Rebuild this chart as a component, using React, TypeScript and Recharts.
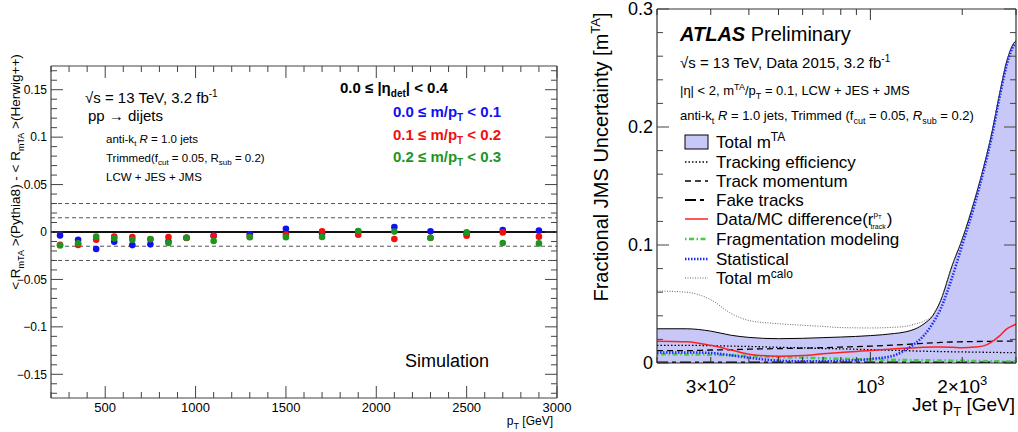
import React from 'react';
import { ComposedChart, Scatter, XAxis, YAxis, ReferenceLine, Area, Line } from 'recharts';

// ---------------- Left panel data ----------------
const ptBins = [250, 350, 450, 550, 650, 750, 850, 950, 1100, 1300, 1500, 1700, 1900, 2100, 2300, 2500, 2700, 2900];
const diffMass00to01 = [-0.0036, -0.0082, -0.018, -0.0102, -0.0138, -0.013, -0.0100, -0.0060, -0.0040, -0.0025, 0.0035, -0.0014, 0.0005, 0.0053, 0.0007, -0.0020, 0.0020, 0.0014];
const diffMass01to02 = [-0.0135, -0.0136, -0.0081, -0.0049, -0.0053, -0.0076, -0.0053, -0.0062, -0.0039, -0.0050, -0.0028, 0.0007, -0.0028, -0.0074, -0.0060, -0.0039, -0.0004, -0.0049];
const diffMass02to03 = [-0.0143, -0.0118, -0.0049, -0.0067, -0.0081, -0.0074, -0.0116, -0.0060, -0.0095, -0.0055, -0.0056, -0.0053, 0.0010, 0.0004, -0.0064, -0.0004, -0.0116, -0.0120];
const closureBands = [-0.03, -0.015, 0.015, 0.03];

const leftXMajor = [500, 1000, 1500, 2000, 2500, 3000];
const leftXLabels = ['500', '1000', '1500', '2000', '2500', '3000'];
const leftYMajor = [-0.15, -0.1, -0.05, 0, 0.05, 0.1, 0.15];
const leftYLabels = ['\u22120.15', '\u22120.1', '\u22120.05', '0', '0.05', '0.1', '0.15'];

// ---------------- Right panel data ----------------
const jetPt = [200, 250, 300, 350, 400, 500, 600, 700, 800, 1000, 1200, 1300, 1400, 1500, 1600, 1700, 1850, 2000, 2200, 2350, 2500, 2650, 2800, 2950, 3000];
const totalTA = [0.0290, 0.0290, 0.0270, 0.0235, 0.0217, 0.0206, 0.0209, 0.0215, 0.0220, 0.0232, 0.0250, 0.0263, 0.0288, 0.0333, 0.0400, 0.0530, 0.0820, 0.1050, 0.1390, 0.1660, 0.1950, 0.2280, 0.2560, 0.2710, 0.2730];
const trackingEff = [0.0150, 0.0150, 0.0147, 0.0143, 0.0140, 0.0133, 0.0128, 0.0123, 0.0120, 0.0113, 0.0107, 0.0105, 0.0102, 0.0100, 0.0098, 0.0097, 0.0095, 0.0094, 0.0092, 0.0091, 0.0090, 0.0089, 0.0088, 0.0088, 0.0088];
const trackMomentum = [0.0105, 0.0105, 0.0110, 0.0113, 0.0117, 0.0122, 0.0126, 0.0130, 0.0135, 0.0143, 0.0152, 0.0157, 0.0162, 0.0167, 0.0171, 0.0174, 0.0178, 0.0180, 0.0182, 0.0183, 0.0184, 0.0185, 0.0185, 0.0185, 0.0185];
const fakeTracks = [0.0005, 0.0005, 0.0005, 0.0005, 0.0005, 0.0005, 0.0005, 0.0005, 0.0005, 0.0005, 0.0005, 0.0005, 0.0005, 0.0005, 0.0005, 0.0005, 0.0005, 0.0005, 0.0005, 0.0005, 0.0005, 0.0005, 0.0005, 0.0005, 0.0005];
const dataMCDiff = [0.0185, 0.0180, 0.0150, 0.0110, 0.0075, 0.0058, 0.0063, 0.0078, 0.0090, 0.0105, 0.0120, 0.0125, 0.0130, 0.0133, 0.0135, 0.0135, 0.0133, 0.0130, 0.0135, 0.0145, 0.0180, 0.0230, 0.0290, 0.0320, 0.0330];
const fragModeling = [0.0075, 0.0073, 0.0070, 0.0065, 0.0060, 0.0050, 0.0045, 0.0040, 0.0036, 0.0030, 0.0027, 0.0025, 0.0024, 0.0023, 0.0022, 0.0021, 0.0020, 0.0019, 0.0017, 0.0016, 0.0015, 0.0014, 0.0013, 0.0012, 0.0012];
const statistical = [0.0090, 0.0090, 0.0085, 0.0065, 0.0045, 0.0020, 0.0015, 0.0015, 0.0018, 0.0034, 0.0065, 0.0110, 0.0165, 0.0235, 0.0335, 0.0460, 0.0720, 0.1000, 0.1350, 0.1630, 0.1920, 0.2250, 0.2530, 0.2690, 0.2710];
const totalCalo = [0.0610, 0.0600, 0.0537, 0.0420, 0.0360, 0.0333, 0.0320, 0.0310, 0.0300, 0.0297, 0.0303, 0.0310, 0.0330, 0.0355, 0.0405, 0.0535, 0.0825, 0.1055, 0.1395, 0.1665, 0.1955, 0.2285, 0.2565, 0.2715, 0.2735];

const rightXTicks = [200, 300, 400, 500, 600, 700, 800, 900, 1000, 2000, 3000];
const rightXLabels = [
  { v: 300, base: '3\u00d710', sup: '2' },
  { v: 1000, base: '10', sup: '3' },
  { v: 2000, base: '2\u00d710', sup: '3' },
];
const rightYMajor = [0, 0.1, 0.2, 0.3];
const rightYLabels = ['0', '0.1', '0.2', '0.3'];

// minor tick positions
const leftXTicks = Array.from({ length: 29 }, (_, i) => 200 + i * 100);
const leftYTicks = Array.from({ length: 35 }, (_, i) => (i - 17) / 100);
const rightYTicks = Array.from({ length: 16 }, (_, i) => (i * 2) / 100);

const F = '"Liberation Sans", Arial, Helvetica, sans-serif';
const AX = '#444';

const mkPoints = (vals: number[]) => ptBins.map((x, i) => ({ x, y: vals[i] }));
const rightData = jetPt.map((pt, i) => ({
  pt,
  totalTA: totalTA[i],
  trackingEff: trackingEff[i],
  trackMomentum: trackMomentum[i],
  fakeTracks: fakeTracks[i],
  dataMCDiff: dataMCDiff[i],
  fragModeling: fragModeling[i],
  statistical: statistical[i],
  totalCalo: totalCalo[i],
}));

type Side = 'bottom' | 'top' | 'left' | 'right';
const isIn = (arr: number[], v: number) =>
  arr.findIndex((m) => Math.abs(m - v) <= 1e-6 * Math.max(1, Math.abs(m)));

function tickFn(side: Side, majors: number[], labels: string[] | null, majorLen: number, minorLen: number, fontSize = 12, lblOff = 14) {
  return (props: any) => {
    const { x, y, payload } = props;
    const v = Number(payload.value);
    const idx = isIn(majors, v);
    const len = idx >= 0 ? majorLen : minorLen;
    let line: any = null;
    if (side === 'bottom') line = <line x1={x} x2={x} y1={y} y2={y - len} stroke={AX} strokeWidth={1} />;
    if (side === 'top') line = <line x1={x} x2={x} y1={y} y2={y + len} stroke={AX} strokeWidth={1} />;
    if (side === 'left') line = <line x1={x} x2={x + len} y1={y} y2={y} stroke={AX} strokeWidth={1} />;
    if (side === 'right') line = <line x1={x} x2={x - len} y1={y} y2={y} stroke={AX} strokeWidth={1} />;
    let label: any = null;
    if (labels && idx >= 0 && labels[idx]) {
      if (side === 'bottom')
        label = <text x={x} y={y + lblOff} textAnchor="middle" fontSize={fontSize} fontFamily={F} fill="#000">{labels[idx]}</text>;
      if (side === 'left')
        label = <text x={x - 4} y={y + fontSize * 0.36} textAnchor="end" fontSize={fontSize} fontFamily={F} fill="#000">{labels[idx]}</text>;
    }
    return <g>{line}{label}</g>;
  };
}

const rightXTick = (props: any) => {
  const { x, y, payload } = props;
  const v = Number(payload.value);
  const len = v === 1000 ? 11 : 6;
  const lab = rightXLabels.find((l) => l.v === v);
  return (
    <g>
      <line x1={x} x2={x} y1={y} y2={y - len} stroke="#333" strokeWidth={1} />
      {lab && (
        <text x={x} y={y + 30} textAnchor="middle" fontSize={19} fontFamily={F} fill="#000">
          {lab.base}
          <tspan dy={-8} fontSize={13}>{lab.sup}</tspan>
        </text>
      )}
    </g>
  );
};
const rightXTopTick = (props: any) => {
  const { x, y, payload } = props;
  const v = Number(payload.value);
  const len = v === 1000 ? 11 : 6;
  return <line x1={x} x2={x} y1={y} y2={y + len} stroke="#333" strokeWidth={1} />;
};

const dot = (color: string) => (props: any) =>
  props.cx == null ? <g /> : <circle cx={props.cx} cy={props.cy} r={3.3} fill={color} />;

const BLUE = '#1010f0';
const RED = '#f01010';
const GREEN = '#1e961e';
const FILL = '#c8c8f8';

const styles = {
  trackingEff: { stroke: '#000', strokeWidth: 1.3, strokeDasharray: '1.5 2' },
  trackMomentum: { stroke: '#000', strokeWidth: 1.3, strokeDasharray: '6 4' },
  fakeTracks: { stroke: '#000', strokeWidth: 1.8, strokeDasharray: '11 4 4 4' },
  dataMCDiff: { stroke: '#ff2020', strokeWidth: 1.5, strokeDasharray: undefined as any },
  fragModeling: { stroke: '#44cc44', strokeWidth: 2.5, strokeDasharray: '1.5 2.5 5 2.5' },
  statistical: { stroke: '#1a2bff', strokeWidth: 2.5, strokeDasharray: '1.5 1.5' },
  totalCalo: { stroke: '#666', strokeWidth: 1, strokeDasharray: '1 1.5' },
};

function LeftChart() {
  return (
    <ComposedChart width={575} height={432} margin={{ top: 0, right: 0, bottom: 0, left: 0 }}>
      <XAxis dataKey="x" type="number" domain={[200, 3000]} allowDataOverflow ticks={leftXTicks} interval={0}
        height={34} tickSize={0} tickMargin={0} tickLine={false} axisLine={{ stroke: AX, strokeWidth: 1.2 }}
        tick={tickFn('bottom', leftXMajor, leftXLabels, 12, 6, 13, 14)} />
      <XAxis xAxisId="top" orientation="top" dataKey="x" type="number" domain={[200, 3000]} allowDataOverflow ticks={leftXTicks} interval={0}
        height={66} tickSize={0} tickMargin={0} tickLine={false} axisLine={{ stroke: AX, strokeWidth: 1.2 }}
        tick={tickFn('top', leftXMajor, null, 12, 6)} />
      <YAxis dataKey="y" type="number" domain={[-0.175, 0.175]} allowDataOverflow ticks={leftYTicks} interval={0}
        width={51} tickSize={0} tickMargin={0} tickLine={false} axisLine={{ stroke: AX, strokeWidth: 1.2 }}
        tick={tickFn('left', leftYMajor, leftYLabels, 12, 6, 12)} />
      <YAxis yAxisId="right" orientation="right" dataKey="y" type="number" domain={[-0.175, 0.175]} allowDataOverflow ticks={leftYTicks} interval={0}
        width={18} tickSize={0} tickMargin={0} tickLine={false} axisLine={{ stroke: AX, strokeWidth: 1.2 }}
        tick={tickFn('right', leftYMajor, null, 12, 6)} />
      {closureBands.map((b) => (
        <ReferenceLine key={b} y={b} stroke="#555" strokeWidth={1} strokeDasharray="4 3" />
      ))}
      <ReferenceLine y={0} stroke="#111" strokeWidth={2} />
      <Scatter data={mkPoints(diffMass00to01)} fill={BLUE} shape={dot(BLUE)} isAnimationActive={false} />
      <Scatter data={mkPoints(diffMass01to02)} fill={RED} shape={dot(RED)} isAnimationActive={false} />
      <Scatter data={mkPoints(diffMass02to03)} fill={GREEN} shape={dot(GREEN)} isAnimationActive={false} />
    </ComposedChart>
  );
}

function RightChart() {
  return (
    <ComposedChart width={443} height={432} data={rightData} margin={{ top: 0, right: 0, bottom: 0, left: 0 }}>
      <XAxis dataKey="pt" type="number" scale="log" domain={[200, 3000]} allowDataOverflow ticks={rightXTicks} interval={0}
        height={69} tickSize={0} tickMargin={0} tickLine={false} axisLine={{ stroke: '#333', strokeWidth: 1.2 }}
        tick={rightXTick} />
      <XAxis xAxisId="top" orientation="top" dataKey="pt" type="number" scale="log" domain={[200, 3000]} allowDataOverflow ticks={rightXTicks} interval={0}
        height={9} tickSize={0} tickMargin={0} tickLine={false} axisLine={{ stroke: '#333', strokeWidth: 1.2 }}
        tick={rightXTopTick} />
      <YAxis type="number" domain={[0, 0.3]} allowDataOverflow ticks={rightYTicks} interval={0}
        width={82} tickSize={0} tickMargin={0} tickLine={false} axisLine={{ stroke: '#333', strokeWidth: 1.2 }}
        tick={tickFn('left', rightYMajor, rightYLabels, 12, 6, 18)} />
      <YAxis yAxisId="right" orientation="right" type="number" domain={[0, 0.3]} allowDataOverflow ticks={rightYTicks} interval={0}
        width={2} tickSize={0} tickMargin={0} tickLine={false} axisLine={{ stroke: '#333', strokeWidth: 1.2 }}
        tick={tickFn('right', rightYMajor, null, 12, 6)} />
      <Area dataKey="totalTA" type="monotone" fill={FILL} fillOpacity={1} stroke="#000" strokeWidth={1} isAnimationActive={false} dot={false} activeDot={false} />
      <Line dataKey="totalCalo" type="monotone" {...styles.totalCalo} dot={false} activeDot={false} isAnimationActive={false} />
      <Line dataKey="trackingEff" type="monotone" {...styles.trackingEff} dot={false} activeDot={false} isAnimationActive={false} />
      <Line dataKey="trackMomentum" type="monotone" {...styles.trackMomentum} dot={false} activeDot={false} isAnimationActive={false} />
      <Line dataKey="fakeTracks" type="monotone" {...styles.fakeTracks} dot={false} activeDot={false} isAnimationActive={false} />
      <Line dataKey="fragModeling" type="monotone" {...styles.fragModeling} dot={false} activeDot={false} isAnimationActive={false} />
      <Line dataKey="dataMCDiff" type="monotone" stroke={styles.dataMCDiff.stroke} strokeWidth={1.5} dot={false} activeDot={false} isAnimationActive={false} />
      <Line dataKey="statistical" type="monotone" {...styles.statistical} dot={false} activeDot={false} isAnimationActive={false} />
    </ComposedChart>
  );
}

const legendRows: { label: any; kind: string }[] = [
  { kind: 'box', label: 'Total m' },
  { kind: 'trackingEff', label: 'Tracking efficiency' },
  { kind: 'trackMomentum', label: 'Track momentum' },
  { kind: 'fakeTracks', label: 'Fake tracks' },
  { kind: 'dataMCDiff', label: 'Data/MC difference(r' },
  { kind: 'fragModeling', label: 'Fragmentation modeling' },
  { kind: 'statistical', label: 'Statistical' },
  { kind: 'totalCalo', label: 'Total m' },
];
const legendY = [142, 162, 181, 200, 219, 239, 259, 278];

function Overlay() {
  return (
    <svg width={1018} height={432} style={{ position: 'absolute', left: 0, top: 0, pointerEvents: 'none' }} fontFamily={F}>
      {/* ---------- left panel text ---------- */}
      <text transform="translate(20,172) rotate(-90)" textAnchor="middle" fontSize={13.5}>
        {'< R'}<tspan dy={4} fontSize={9}>mTA</tspan><tspan dy={-4}>{' >(Pythia8) - < R'}</tspan>
        <tspan dy={4} fontSize={9}>mTA</tspan><tspan dy={-4}>{' >(Herwig++)'}</tspan>
      </text>
      <text x={85} y={103} fontSize={15}>{'\u221as = 13 TeV, 3.2 fb'}<tspan dy={-6} fontSize={10}>-1</tspan></text>
      <text x={88} y={121} fontSize={15}>{'pp \u2192 dijets'}</text>
      <text x={106} y={143} fontSize={11.5}>
        {'anti-k'}<tspan dy={3} fontSize={8}>t</tspan><tspan dy={-3}>{' '}</tspan><tspan fontStyle="italic">R</tspan>{' = 1.0 jets'}
      </text>
      <text x={106} y={162} fontSize={11.5}>
        {'Trimmed(f'}<tspan dy={3} fontSize={8}>cut</tspan><tspan dy={-3}>{' = 0.05, R'}</tspan>
        <tspan dy={3} fontSize={8}>sub</tspan><tspan dy={-3}>{' = 0.2)'}</tspan>
      </text>
      <text x={106} y={181} fontSize={11.5}>LCW + JES + JMS</text>

      <text x={340} y={93} fontSize={15} fontWeight="bold">
        {'0.0 \u2264 |\u03b7'}<tspan dy={4} fontSize={10}>det</tspan><tspan dy={-4}>{'| < 0.4'}</tspan>
      </text>
      <text x={393} y={117} fontSize={15} fontWeight="bold" fill={BLUE}>
        {'0.0 \u2264 m/p'}<tspan dy={4} fontSize={10}>T</tspan><tspan dy={-4}>{' < 0.1'}</tspan>
      </text>
      <text x={393} y={140} fontSize={15} fontWeight="bold" fill={RED}>
        {'0.1 \u2264 m/p'}<tspan dy={4} fontSize={10}>T</tspan><tspan dy={-4}>{' < 0.2'}</tspan>
      </text>
      <text x={393} y={162} fontSize={15} fontWeight="bold" fill={GREEN}>
        {'0.2 \u2264 m/p'}<tspan dy={4} fontSize={10}>T</tspan><tspan dy={-4}>{' < 0.3'}</tspan>
      </text>
      <text x={405} y={367} fontSize={18}>Simulation</text>
      <text x={553} y={425} fontSize={12} textAnchor="end">
        {'p'}<tspan dy={4} fontSize={9}>T</tspan><tspan dy={-4}>{' [GeV]'}</tspan>
      </text>

      {/* ---------- right panel text ---------- */}
      <text transform="translate(608,157) rotate(-90)" textAnchor="middle" fontSize={20}>
        {'Fractional JMS Uncertainty [m'}<tspan dy={-8} fontSize={13}>TA</tspan><tspan dy={8}>]</tspan>
      </text>
      <text x={1015} y={411} fontSize={19} textAnchor="end">
        {'Jet p'}<tspan dy={5} fontSize={13}>T</tspan><tspan dy={-5}>{' [GeV]'}</tspan>
      </text>
      <text x={680} y={41} fontSize={20}>
        <tspan fontWeight="bold" fontStyle="italic">ATLAS</tspan>{' Preliminary'}
      </text>
      <text x={680} y={68} fontSize={15}>
        {'\u221as = 13 TeV, Data 2015, 3.2 fb'}<tspan dy={-6} fontSize={10}>-1</tspan>
      </text>
      <text x={680} y={95} fontSize={13}>
        {'|\u03b7| < 2, m'}<tspan dy={-5} fontSize={9}>TA</tspan><tspan dy={5}>/p</tspan>
        <tspan dy={4} fontSize={9}>T</tspan><tspan dy={-4}>{' = 0.1, LCW + JES + JMS'}</tspan>
      </text>
      <text x={680} y={120} fontSize={13}>
        {'anti-k'}<tspan dy={4} fontSize={9}>t</tspan><tspan dy={-4}>{' '}</tspan><tspan fontStyle="italic">R</tspan>
        {' = 1.0 jets, Trimmed (f'}<tspan dy={4} fontSize={9}>cut</tspan><tspan dy={-4}>{' = 0.05, '}</tspan>
        <tspan fontStyle="italic">R</tspan><tspan dy={4} fontSize={9}>sub</tspan><tspan dy={-4}>{' = 0.2)'}</tspan>
      </text>

      {legendRows.map((r, i) => {
        const cy = legendY[i];
        const x1 = 685, x2 = 708;
        let glyph: any = null;
        if (r.kind === 'box') glyph = <rect x={x1} y={cy - 7} width={x2 - x1} height={14} fill={FILL} stroke="#000" strokeWidth={1} />;
        else {
          const s: any = (styles as any)[r.kind];
          glyph = <line x1={x1} x2={x2} y1={cy} y2={cy} stroke={s.stroke} strokeWidth={s.strokeWidth} strokeDasharray={s.strokeDasharray} />;
        }
        let extra: any = null;
        if (i === 0) extra = <tspan dy={-7} fontSize={12}>TA</tspan>;
        if (i === 7) extra = <tspan dy={-6} fontSize={12}>calo</tspan>;
        if (i === 4)
          extra = (
            <>
              <tspan dy={-8} fontSize={8}>p</tspan>
              <tspan dy={2} fontSize={6}>T</tspan>
              <tspan dx={-11} dy={10} fontSize={7}>track</tspan>
              <tspan dx={1} dy={-4}>)</tspan>
            </>
          );
        return (
          <g key={i}>
            {glyph}
            <text x={716} y={cy + 6} fontSize={17}>{r.label}{extra}</text>
          </g>
        );
      })}
    </svg>
  );
}

export default function App() {
  return (
    <div style={{ position: 'absolute', left: 0, top: 0, width: 1018, height: 432, background: '#fff', overflow: 'hidden', fontFamily: F }}>
      <div style={{ position: 'absolute', left: 0, top: 0 }}>
        <LeftChart />
      </div>
      <div style={{ position: 'absolute', left: 575, top: 0 }}>
        <RightChart />
      </div>
      <Overlay />
    </div>
  );
}
